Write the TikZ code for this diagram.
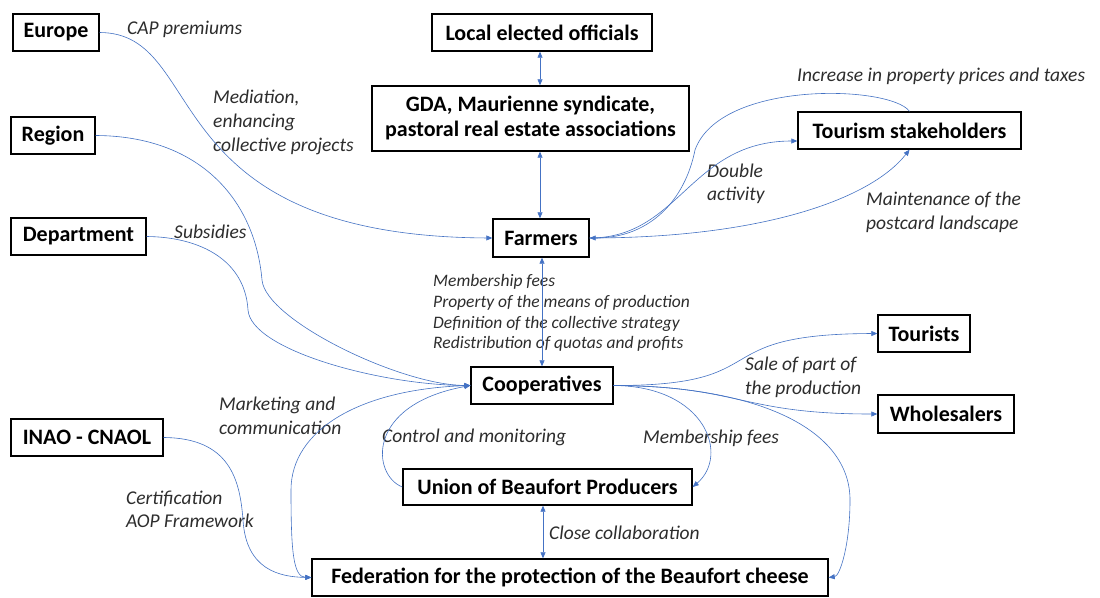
\documentclass[tikz,border=0pt]{standalone}
\usepackage{fontspec}
\setmainfont{Carlito}
\usetikzlibrary{arrows.meta}
\definecolor{lnk}{RGB}{68,114,196}
\definecolor{lbl}{RGB}{45,45,45}
\begin{document}
\begin{tikzpicture}[x=1pt,y=-1pt,
  box/.style={draw, line width=1.4pt, inner sep=0pt, align=center,
    font=\fontsize{22}{25}\selectfont\bfseries},
  lab/.style={font=\fontsize{19.5}{24}\selectfont\itshape, text=lbl,
    inner sep=0pt, anchor=west, align=left},
  link/.style={draw=lnk, line width=0.6pt},
  arr/.style={link, -{Triangle[length=6pt,width=5pt]}},
  darr/.style={link, {Triangle[length=6pt,width=5pt]}-{Triangle[length=6pt,width=5pt]}}]
\fill[white] (0,0) rectangle (1100,597);
\useasboundingbox (0,0) rectangle (1100,597);

% boxes
\node[box, minimum width=86pt, minimum height=37pt] (europe) at (56,32.5) {Europe};
\node[box, minimum width=84pt, minimum height=37pt] (region) at (53,135.5) {Region};
\node[box, minimum width=135pt, minimum height=37pt] (department) at (78.5,236.5) {Department};
\node[box, minimum width=220pt, minimum height=37pt] (local) at (542,32.5) {Local elected officials};
\node[box, minimum width=317pt, minimum height=65pt] (gda) at (530.5,118.5) {GDA, Maurienne syndicate,\\pastoral real estate associations};
\node[box, minimum width=96pt, minimum height=38pt] (farmers) at (541,238) {Farmers};
\node[box, minimum width=223pt, minimum height=37pt] (tourism) at (909.5,130.5) {Tourism stakeholders};
\node[box, minimum width=142pt, minimum height=37pt] (coop) at (542,385.5) {Cooperatives};
\node[box, minimum width=92pt, minimum height=37pt] (tourists) at (924,333.5) {Tourists};
\node[box, minimum width=136pt, minimum height=38pt] (wholesalers) at (946,414) {Wholesalers};
\node[box, minimum width=152pt, minimum height=37pt] (inao) at (87,437.5) {INAO - CNAOL};
\node[box, minimum width=289pt, minimum height=36pt] (union) at (547.5,487) {Union of Beaufort Producers};
\node[box, minimum width=516pt, minimum height=37pt] (federation) at (570,577.5) {Federation for the protection of the Beaufort cheese};

% labels
\node[lab] (lcap) at (127,29) {CAP premiums};
\node[lab] (lmed) at (213,122) {Mediation,\\enhancing\\collective projects};
\node[lab] (lsub) at (174,232) {Subsidies};
\node[lab] (linc) at (797,76) {Increase in property prices and taxes};
\node[lab, font=\fontsize{19.5}{23}\selectfont\itshape] (ldbl) at (707,183.5) {Double\\activity};
\node[lab] (lmain) at (866,212) {Maintenance of the\\postcard landscape};
\node[lab, font=\fontsize{17.5}{20.7}\selectfont\itshape] (lmem) at (433,313) {Membership fees\\Property of the means of production\\Definition of the collective strategy\\Redistribution of quotas and profits};
\node[lab] (lsale) at (745,377) {Sale of part of\\the production};
\node[lab] (lmem2) at (643,438) {Membership fees};
\node[lab] (lctrl) at (382,437) {Control and monitoring};
\node[lab] (lclose) at (549,533) {Close collaboration};
\node[lab] (lmkt) at (219,416) {Marketing and\\communication};
\node[lab, font=\fontsize{19.5}{23}\selectfont\itshape] (lcert) at (126,509.5) {Certification\\AOP Framework};

% vertical double arrows
\draw[darr] (local.south -| 540,0) -- (gda.north -| 540,0);
\draw[darr] (gda.south -| 540,0) -- (farmers.north -| 540,0);
\draw[darr] (farmers.south -| 542,0) -- (coop.north -| 542,0);
\draw[darr] (union.south -| 543,0) -- (federation.north -| 543,0);

% left side flows
\draw[arr] (europe.east) .. controls (210,33) and (150,236) .. (farmers.west);
\draw[arr] (region.east) .. controls (200,136) and (255,200) .. (262,280)
  .. controls (265.5,320) and (400,385) .. (coop.west);
\draw[arr] (department.east) .. controls (200,237) and (245,260) .. (248,310)
  .. controls (251,350) and (380,385) .. (coop.west);
\draw[arr] (union.west) .. controls (372,475) and (365,405) .. (coop.west);
\draw[arr] (coop.west) .. controls (360,388) and (291,430) .. (291,490)
  .. controls (291,550) and (293,577) .. (federation.west);
\draw[arr] (inao.east) .. controls (230,438) and (240,480) .. (243,520)
  .. controls (246,570) and (280,577) .. (federation.west);

% tourism flows
\draw[arr] (tourism.north) .. controls (890,85) and (720,80) .. (695,150)
  .. controls (685,200) and (650,238) .. (farmers.east);
\draw[arr] (farmers.east) .. controls (680,238) and (690,141) .. ([yshift=-10.5pt]tourism.west);
\draw[arr] (farmers.east) .. controls (760,238) and (870,200) .. (tourism.south);

% cooperatives outgoing
\draw[arr] (coop.east) .. controls (780,386) and (700,334) .. (tourists.west);
\draw[arr] (coop.east) .. controls (740,386) and (740,414) .. (wholesalers.west);
\draw[arr] (coop.east) .. controls (705,386) and (730,455) .. (union.east);
\draw[arr] (coop.east) .. controls (760,386) and (850,430) .. (850,500)
  .. controls (850,545) and (840,576) .. (federation.east);
\end{tikzpicture}
\end{document}
